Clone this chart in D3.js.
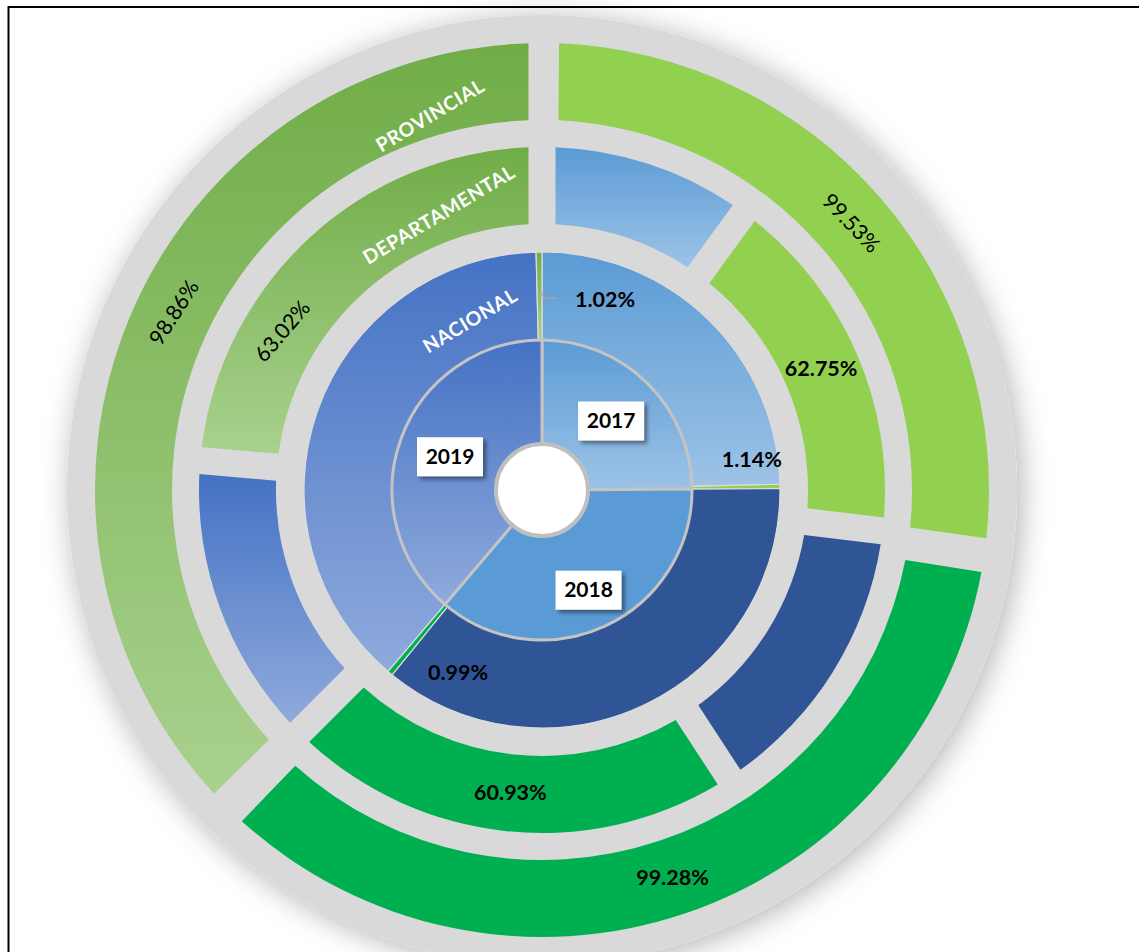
<!DOCTYPE html>
<html lang="es">
<head>
<meta charset="utf-8">
<title>Anillos por nivel de gobierno</title>
<script src="https://cdn.jsdelivr.net/npm/d3@7"></script>
<style>
  body { margin: 0; background: white; font-family: Lato, "Open Sans", sans-serif; }
  .pct { font-size: 21.5px; fill: #000; }
  .pct.bold { font-weight: 700; }
  .level { font-size: 19.5px; font-weight: 700; fill: white; letter-spacing: 0.6px; }
  .year { font-size: 21px; font-weight: 700; fill: #000; }
</style>
</head>
<body>
<script>
var years = ["2017", "2018", "2019"];
var levels = ["NACIONAL", "DEPARTAMENTAL", "PROVINCIAL"];

// share of the circle taken by each year, per ring
var nacionalShare = [24.9, 36.3, 38.8];
var departamentalShare = [26.9, 35.6, 37.5];
var provincialShare = [27.2, 35.0, 37.8];

// green part of each year, in %
var nacionalGreen = [1.14, 0.99, 1.02];
var departamentalGreen = [62.75, 60.93, 63.02];
var provincialGreen = [99.53, 99.28, 98.86];

var W = 1139, H = 952, cx = 542, cy = 490;
var R = { hole: 46, year: 150, nac: 238, depIn: 266, depOut: 343, provIn: 370, provOut: 447, disc: 475 };
var GAP = 27;

var svg = d3.select("body").append("svg").attr("width", W).attr("height", H);
var defs = svg.append("defs");

function vgrad(id, top, bottom) {
  var g = defs.append("linearGradient").attr("id", id)
    .attr("x1", 0).attr("y1", 0).attr("x2", 0).attr("y2", 1);
  g.append("stop").attr("offset", "0%").attr("stop-color", top);
  g.append("stop").attr("offset", "100%").attr("stop-color", bottom);
}
vgrad("blue17", "#5B9BD5", "#9DC3E6");
vgrad("blue19", "#4472C4", "#8FAADC");
vgrad("green19", "#70AD47", "#A9D18E");

var discShadow = defs.append("filter").attr("id", "discShadow")
  .attr("x", "-20%").attr("y", "-20%").attr("width", "140%").attr("height", "140%");
discShadow.append("feDropShadow").attr("dx", 4).attr("dy", 4).attr("stdDeviation", 15)
  .attr("flood-color", "#000").attr("flood-opacity", 0.3);

var boxShadow = defs.append("filter").attr("id", "boxShadow")
  .attr("x", "-20%").attr("y", "-30%").attr("width", "150%").attr("height", "170%");
boxShadow.append("feDropShadow").attr("dx", 3).attr("dy", 3).attr("stdDeviation", 2)
  .attr("flood-color", "#000").attr("flood-opacity", 0.45);

var blueFill = ["url(#blue17)", "#2F5597", "url(#blue19)"];
var greenFill = ["#92D050", "#00B050", "url(#green19)"];
var yearFill = ["url(#blue17)", "#5B9BD5", "url(#blue19)"];

var g = svg.append("g").attr("transform", "translate(" + cx + "," + cy + ")");

// grey back disc
g.append("circle").attr("r", R.disc).attr("fill", "#D9D9D9").attr("filter", "url(#discShadow)");

function ringParts(share, green) {
  var parts = [];
  years.forEach(function(y, i) {
    parts.push({ year: y, i: i, kind: "blue", value: share[i] * (100 - green[i]) / 100 });
    parts.push({ year: y, i: i, kind: "green", value: share[i] * green[i] / 100, pct: green[i] });
  });
  return parts;
}

var pie = d3.pie().sort(null).value(function(d) { return d.value; });

function fillOf(d) { return d.data.kind === "blue" ? blueFill[d.data.i] : greenFill[d.data.i]; }

var provArcs = pie(ringParts(provincialShare, provincialGreen));
var depArcs = pie(ringParts(departamentalShare, departamentalGreen));
var nacArcs = pie(ringParts(nacionalShare, nacionalGreen));

// outer rings have grey gaps of constant width
var provArc = d3.arc().innerRadius(R.provIn).outerRadius(R.provOut).padAngle(GAP / 400).padRadius(400);
var depArc = d3.arc().innerRadius(R.depIn).outerRadius(R.depOut).padAngle(GAP / 400).padRadius(400);
var nacArc = d3.arc().innerRadius(R.year).outerRadius(R.nac);

g.append("g").selectAll("path").data(provArcs).join("path")
  .attr("d", provArc).attr("fill", fillOf);
g.append("g").selectAll("path").data(depArcs).join("path")
  .attr("d", depArc).attr("fill", fillOf);
g.append("g").selectAll("path").data(nacArcs).join("path")
  .attr("d", nacArc).attr("fill", fillOf)
  .attr("stroke", "#DCDCDC").attr("stroke-width", 1.2);

// year ring
var yearArcs = pie(nacionalShare.map(function(v, i) { return { i: i, year: years[i], value: v }; }));
var yearArc = d3.arc().innerRadius(R.hole).outerRadius(R.year);
g.append("g").selectAll("path").data(yearArcs).join("path")
  .attr("d", yearArc).attr("fill", function(d) { return yearFill[d.data.i]; })
  .attr("stroke", "#C4C4C4").attr("stroke-width", 3);

g.append("circle").attr("r", R.hole).attr("fill", "white")
  .attr("stroke", "#BFBFBF").attr("stroke-width", 4);

var deg = 180 / Math.PI;
function polar(angleDeg, r) {
  var a = angleDeg / deg;
  return [Math.sin(a) * r, -Math.cos(a) * r];
}
function midDeg(d) { return (d.startAngle + d.endAngle) / 2 * deg; }

// year boxes (2018 sits a bit further out)
var yearLabelR = [98, 110, 98];
var yb = g.append("g").selectAll("g").data(yearArcs).join("g")
  .attr("transform", function(d) {
    var c = polar(midDeg(d), yearLabelR[d.data.i]);
    return "translate(" + c[0] + "," + c[1] + ")";
  });
yb.append("rect").attr("x", -33).attr("y", -19).attr("width", 66).attr("height", 39)
  .attr("fill", "white").attr("filter", "url(#boxShadow)");
yb.append("text").attr("class", "year").attr("text-anchor", "middle").attr("dy", "0.36em")
  .text(function(d) { return d.data.year; });

// percentage labels on the outer rings (green parts)
var labelShift = { "dep2": -16, "prov2": 3 };
var labelTurn = { "dep2": 9, "prov2": 7, "prov0": -3 };
function pctLabels(arcs, inner, outer, key) {
  var rMid = (inner + outer) / 2;
  arcs.filter(function(d) { return d.data.kind === "green"; }).forEach(function(d) {
    var k = key + d.data.i;
    var a = midDeg(d) + (labelShift[k] || 0);
    var p = polar(a, rMid);
    var upper = a > 270 || a < 60;
    var rot = upper ? (a > 180 ? a - 360 : a) + (labelTurn[k] || 0) : 0;
    g.append("text").attr("class", upper ? "pct" : "pct bold")
      .attr("text-anchor", "middle").attr("dy", "0.35em")
      .attr("transform", "translate(" + p[0] + "," + p[1] + ") rotate(" + rot + ")")
      .text(d.data.pct.toFixed(2) + "%");
  });
}
pctLabels(depArcs, R.depIn, R.depOut, "dep");
pctLabels(provArcs, R.provIn, R.provOut, "prov");

// nacional slivers: labels set beside them
var nacShift = [-7.5, -15, 19];
var nacR = [212, 201, 201];
nacArcs.filter(function(d) { return d.data.kind === "green"; }).forEach(function(d) {
  var i = d.data.i;
  var a = midDeg(d);
  var p = polar(a + nacShift[i], nacR[i]);
  g.append("text").attr("class", "pct bold").attr("text-anchor", "middle").attr("dy", "0.35em")
    .attr("transform", "translate(" + p[0] + "," + p[1] + ")")
    .text(d.data.pct.toFixed(2) + "%");
  if (i === 2) {
    var s = polar(a, 199);
    g.append("polyline")
      .attr("points", [s, [s[0] + 5, s[1] + 7], [s[0] + 16, s[1] + 7]].map(function(q) { return q.join(","); }).join(" "))
      .attr("fill", "none").attr("stroke", "#A6A6A6").attr("stroke-width", 1.5);
  }
});

// ring names
var levelPos = [[-23, 184], [-20.5, 294], [-16.6, 391]];
levels.forEach(function(name, i) {
  var p = polar(levelPos[i][0], levelPos[i][1]);
  g.append("text").attr("class", "level").attr("text-anchor", "middle").attr("dy", "0.35em")
    .attr("transform", "translate(" + p[0] + "," + p[1] + ") rotate(-31)")
    .text(name);
});

// frame
svg.append("path").attr("d", "M8.5," + H + "V7H" + W)
  .attr("fill", "none").attr("stroke", "#000").attr("stroke-width", 2);
</script>
</body>
</html>
